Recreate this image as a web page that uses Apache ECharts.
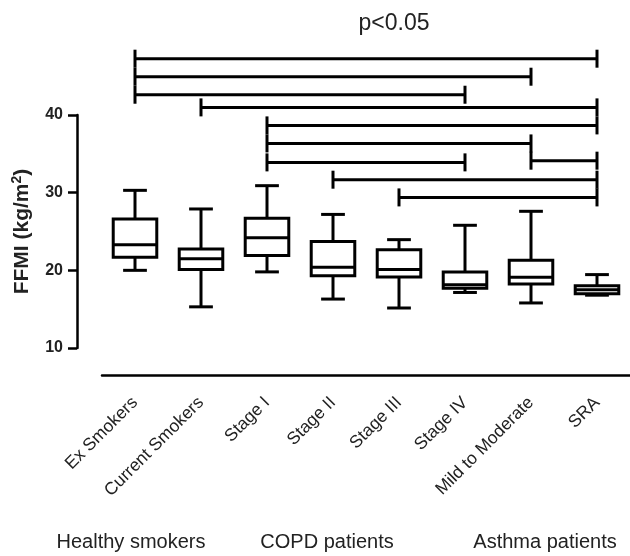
<!DOCTYPE html>
<html><head><meta charset="utf-8">
<script src="https://cdn.jsdelivr.net/npm/echarts@6/dist/echarts.min.js"></script>
<style>html,body{margin:0;padding:0;background:#fff}#c{width:630px;height:556px}</style>
</head><body><div id="c"></div>
<script>
const categories = ['Ex Smokers','Current Smokers','Stage I','Stage II','Stage III','Stage IV','Mild to Moderate','SRA'];
const whiskerLow  = [20.0, 15.3, 19.8, 16.3, 15.15, 17.15, 15.8, 16.8];
const q1          = [21.7, 20.1, 21.9, 19.3, 19.15, 17.7, 18.25, 17.0];
const median      = [23.3, 21.5, 24.2, 20.4, 20.1, 18.15, 19.1, 17.5];
const q3          = [26.6, 22.75, 26.7, 23.7, 22.65, 19.8, 21.3, 18.0];
const whiskerHigh = [30.3, 27.9, 30.9, 27.2, 23.95, 25.8, 27.6, 19.45];
const yTicks = [10, 20, 30, 40];
const sigFrom  = [0, 0, 0, 1, 2, 2, 2, 6, 3, 4];
const sigTo    = [7, 6, 5, 7, 7, 6, 5, 7, 7, 7];
const sigLevel = [47.25, 44.93, 42.61, 40.98, 38.66, 36.34, 33.9, 34.12, 31.67, 29.39];
const groupLabels = ['Healthy smokers', 'COPD patients', 'Asthma patients'];
const pText = 'p<0.05';

const FONT = 'Liberation Sans, Arial, sans-serif';
const chart = echarts.init(document.getElementById('c'), null, {renderer: 'canvas'});

const boxData = categories.map((c, i) => [i, whiskerLow[i], q1[i], median[i], q3[i], whiskerHigh[i]]);
const sigData = sigFrom.map((f, i) => [f, sigTo[i], sigLevel[i]]);

function boxRender(params, api) {
  const x = api.value(0);
  const band = api.size([1, 0])[0];
  const bw = band * 0.66, cw = band * 0.36;
  const cx = api.coord([x, api.value(3)])[0];
  const y = k => api.coord([x, api.value(k)])[1];
  const yLo = y(1), yQ1 = y(2), yMed = y(3), yQ3 = y(4), yHi = y(5);
  const ls = {stroke: '#000', lineWidth: 3, lineCap: 'butt'};
  return {
    type: 'group',
    children: [
      {type: 'line', shape: {x1: cx, y1: yQ3, x2: cx, y2: yHi}, style: ls},
      {type: 'line', shape: {x1: cx, y1: yQ1, x2: cx, y2: yLo}, style: ls},
      {type: 'line', shape: {x1: cx - cw / 2, y1: yHi, x2: cx + cw / 2, y2: yHi}, style: ls},
      {type: 'line', shape: {x1: cx - cw / 2, y1: yLo, x2: cx + cw / 2, y2: yLo}, style: ls},
      {type: 'rect', shape: {x: cx - bw / 2, y: yQ3, width: bw, height: yQ1 - yQ3}, style: {fill: '#fff', stroke: '#000', lineWidth: 3}},
      {type: 'line', shape: {x1: cx - bw / 2, y1: yMed, x2: cx + bw / 2, y2: yMed}, style: ls}
    ]
  };
}

function sigRender(params, api) {
  const p1 = api.coord([api.value(0), api.value(2)]);
  const p2 = api.coord([api.value(1), api.value(2)]);
  const h = 9;
  const ls = {stroke: '#000', lineWidth: 3, lineCap: 'butt'};
  return {
    type: 'group',
    children: [
      {type: 'line', shape: {x1: p1[0], y1: p1[1], x2: p2[0], y2: p2[1]}, style: ls},
      {type: 'line', shape: {x1: p1[0], y1: p1[1] - h, x2: p1[0], y2: p1[1] + h}, style: ls},
      {type: 'line', shape: {x1: p2[0], y1: p2[1] - h, x2: p2[0], y2: p2[1] + h}, style: ls}
    ]
  };
}

const groupX = [131, 327, 545];

chart.setOption({
  animation: false,
  backgroundColor: '#fff',
  textStyle: {fontFamily: FONT},
  grid: {left: 102, top: 115, width: 532, height: 233},
  xAxis: {
    type: 'category',
    data: categories,
    offset: 27,
    axisLine: {lineStyle: {color: '#000', width: 2.5}},
    axisTick: {alignWithLabel: true, length: 9, lineStyle: {color: '#000', width: 2.5}},
    axisLabel: {rotate: 45, interval: 0, fontSize: 17.5, color: '#222', margin: 25, fontFamily: FONT},
    splitLine: {show: false}
  },
  yAxis: {
    type: 'value',
    offset: 25,
    min: yTicks[0],
    max: yTicks[yTicks.length - 1],
    interval: yTicks[1] - yTicks[0],
    axisLine: {show: true, lineStyle: {color: '#000', width: 2.5}},
    axisTick: {show: true, length: 9, lineStyle: {color: '#000', width: 2.5}},
    axisLabel: {fontSize: 16, fontWeight: 'bold', color: '#222', margin: 14, fontFamily: FONT},
    splitLine: {show: false},
    name: 'FFMI (kg/m{s|2})',
    nameLocation: 'middle',
    nameGap: 43,
    nameTextStyle: {
      fontSize: 21, fontWeight: 'bold', color: '#222', fontFamily: FONT,
      rich: {s: {fontSize: 14, fontWeight: 'bold', color: '#222', verticalAlign: 'top', padding: [0, 0, 10, 0], fontFamily: FONT}}
    }
  },
  series: [
    {type: 'custom', name: 'sig', renderItem: sigRender, data: sigData, encode: {x: [0, 1], y: 2}, clip: false, silent: true, z: 2},
    {type: 'custom', name: 'box', renderItem: boxRender, data: boxData, encode: {x: 0, y: [1, 2, 3, 4, 5]}, clip: false, silent: true, z: 3}
  ],
  graphic: [
    {type: 'text', style: {text: pText, x: 394, y: 24, align: 'center', verticalAlign: 'middle', font: '23px ' + FONT, fill: '#222'}}
  ].concat(groupLabels.map((t, i) => ({
    type: 'text', style: {text: t, x: groupX[i], y: 542, align: 'center', verticalAlign: 'middle', font: '20px ' + FONT, fill: '#222'}
  })))
});
</script></body></html>
